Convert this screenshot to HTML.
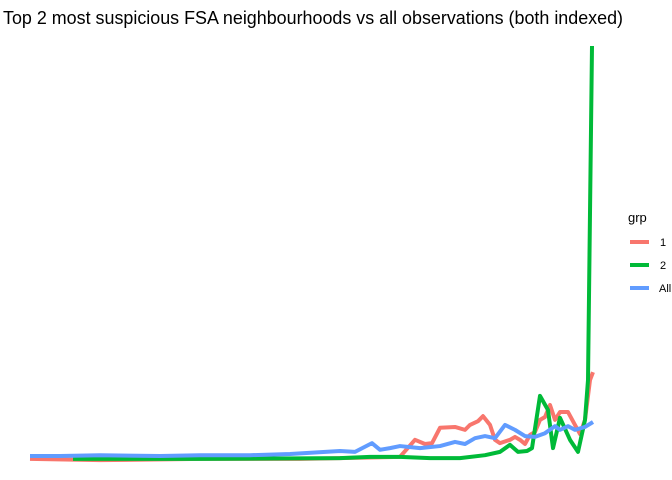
<!DOCTYPE html>
<html><head><meta charset="utf-8"><style>
body{margin:0;background:#fff;}
svg{display:block;font-family:"Liberation Sans",Arial,sans-serif;}
</style></head><body>
<svg id="chart" width="672" height="480">
<text x="3" y="24" font-size="18" textLength="620" lengthAdjust="spacingAndGlyphs" fill="#000">Top 2 most suspicious FSA neighbourhoods vs all observations (both indexed)</text>
<g id="lines"></g>
<g>
<text x="628" y="222" font-size="13">grp</text>
<rect x="630" y="240" width="19" height="4" fill="#F8766D"/>
<text x="660" y="246" font-size="11">1</text>
<rect x="630" y="263" width="19" height="4" fill="#00BA38"/>
<text x="660" y="269" font-size="11">2</text>
<rect x="630" y="286" width="19" height="4" fill="#619CFF"/>
<text x="659" y="292" font-size="11">All</text>
</g>
</svg>
<script>
const redT=[0,14,34,54,62,74,77,79,80.4,82,85,87,88,89.6,90.6,92,93,94,96,97,98,99,100,101,102,103,104,105,106,107.6,109,110,111,112,112.6];
const redV=[0.5,0.2,0.5,0.5,0.7,1.0,5.1,4.1,4.3,8.0,8.2,7.5,8.7,9.6,10.8,8.7,5.1,4.3,5.1,5.8,5.1,4.1,6.3,7.0,9.9,10.6,13.5,9.9,11.8,11.8,8.7,6.5,9.9,19.5,21.4];
const greenT=[8.6,14,34,62,68,74,80,86,91,94,96,97.6,99.4,100.4,102,103.6,104.6,106,108,109.6,111,111.6,112.4];
const greenV=[0.5,0.5,0.5,0.7,1.0,1.0,0.7,0.7,1.4,2.2,3.9,2.2,2.4,3.1,15.7,12.3,3.1,10.4,5.1,2.2,9.9,19.5,100];
const blueT=[0,6,14,26,34,44,52,62,65,68.4,70,72,74,78,82,85,87,89,91,93,95,97,99,101,103,105,106,107.6,109,111,112.6];
const blueV=[1.2,1.2,1.4,1.2,1.4,1.4,1.7,2.4,2.2,4.3,2.7,3.1,3.6,3.1,3.6,4.6,4.1,5.5,6.0,5.5,8.7,7.5,6.0,5.8,6.7,8.4,7.5,8.4,7.5,8.2,9.4];
const xs=t=>30+t*5;
const ys=v=>461-v*4.15;
const g=document.getElementById('lines');
function draw(T,V,color,name){
  const p=document.createElementNS('http://www.w3.org/2000/svg','polyline');
  p.setAttribute('points',T.map((t,i)=>xs(t)+','+ys(V[i])).join(' '));
  p.setAttribute('fill','none');p.setAttribute('stroke',color);
  p.setAttribute('stroke-width','4');p.setAttribute('stroke-linejoin','round');
  
  
  g.appendChild(p);
}
draw(redT,redV,'#F8766D','series-1-line');
draw(greenT,greenV,'#00BA38','series-2-line');
draw(blueT,blueV,'#619CFF','series-all-line');
</script>
</body></html>
